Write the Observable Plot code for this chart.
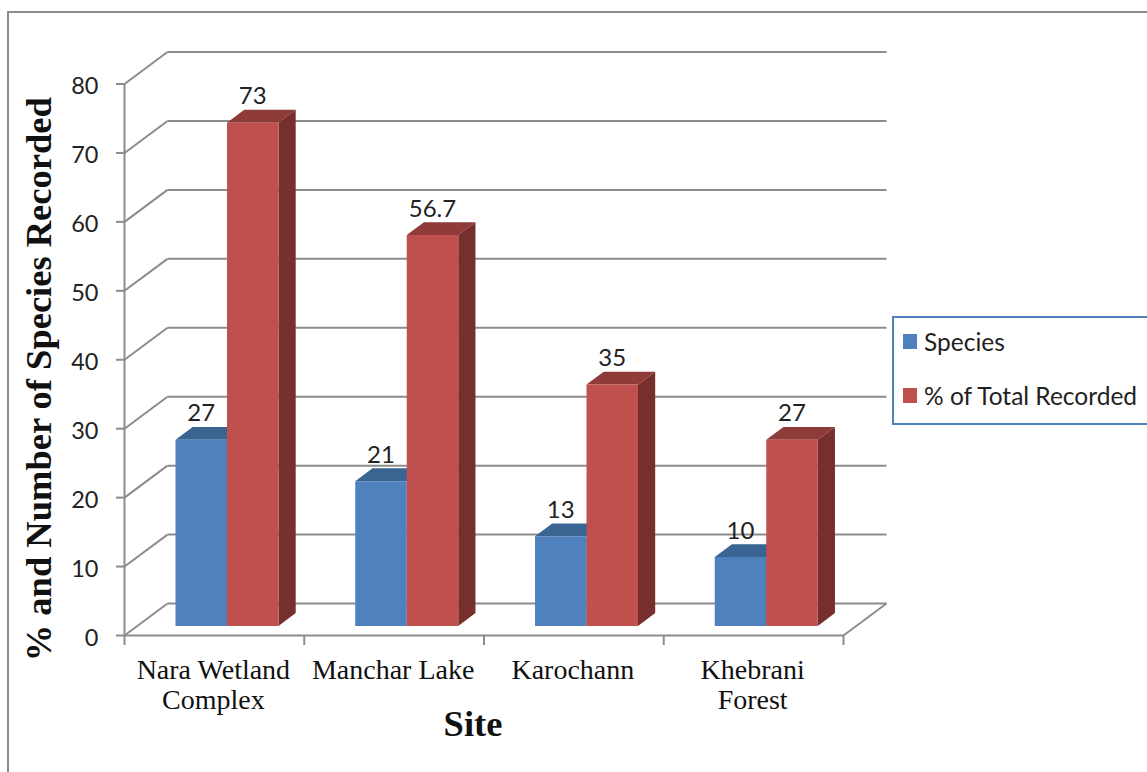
<!DOCTYPE html>
<html>
<head>
<meta charset="utf-8">
<script src="https://cdn.jsdelivr.net/npm/d3@7"></script>
<script src="https://cdn.jsdelivr.net/npm/@observablehq/plot@0.6"></script>
<style>
html,body{margin:0;padding:0;background:#fff;overflow:hidden}
#wrap{position:relative;width:1147px;height:772px;overflow:hidden}
#wrap svg{position:absolute;left:0;top:0;background:transparent}
#frame{position:absolute;left:7px;top:11px;width:1200px;height:900px;border:2.5px solid #8c8c8c;box-sizing:border-box}
#legend{position:absolute;left:892px;top:316px;width:300px;height:109px;box-sizing:border-box;border:2.5px solid #4f81bd;background:#fff;font:24.5px Lato,sans-serif;color:#222}
.row{position:absolute;left:9px;display:flex;align-items:center;white-space:nowrap}
.sw{width:14px;height:14.5px;margin-right:7px;flex:none}
</style>
</head>
<body>
<div id="wrap">
<div id="frame"></div>
</div>
<script>
const sites = ["Nara Wetland\nComplex", "Manchar Lake", "Karochann", "Khebrani\nForest"];
const species = [27, 21, 13, 10];
const percent = [73, 56.7, 35, 27];
const percentLabels = ["73", "56.7", "35", "27"];
const yTicks = [0, 10, 20, 30, 40, 50, 60, 70, 80];
const xTicks = [0, 1, 2, 3, 4];
const seriesNames = ["Species", "% of Total Recorded"];

// oblique projection, in data units of the two scales
const depthX = 0.2392, depthY = 4.64;
const px = (x, d) => x + d * depthX;
const py = (y, d) => y + d * depthY;
const barOffset = 0.212, barWidth = 0.2865, near = 0.3, far = 0.7;

const seriesDefs = [
  {values: species, offset: 0, front: "#4f81bd", top: "#3a6592", side: "#325577"},
  {values: percent, offset: 1, front: "#c0504d", top: "#8e3b39", side: "#772f2d"}
];

const faces = [];
let id = 0;
function face(pts, fill) {
  id++;
  for (const [x, y] of pts) faces.push({x, y, z: id, fill});
}
for (const s of seriesDefs) {
  s.values.forEach((v, i) => {
    const x0 = i + barOffset + s.offset * barWidth, x1 = x0 + barWidth;
    face([[px(x0,near),py(v,near)],[px(x1,near),py(v,near)],[px(x1,far),py(v,far)],[px(x0,far),py(v,far)]], s.top);
    face([[px(x1,near),py(0,near)],[px(x1,far),py(0,far)],[px(x1,far),py(v,far)],[px(x1,near),py(v,near)]], s.side);
    face([[px(x0,near),py(0,near)],[px(x1,near),py(0,near)],[px(x1,near),py(v,near)],[px(x0,near),py(v,near)]], s.front);
  });
}

const grid = "#8c8c8c";
const wallSegs = [];
yTicks.forEach(t => {
  wallSegs.push({x1: 0, y1: t, x2: px(0,1), y2: py(t,1)});
  wallSegs.push({x1: px(0,1), y1: py(t,1), x2: px(4,1), y2: py(t,1)});
});
wallSegs.push({x1: 4, y1: 0, x2: px(4,1), y2: py(0,1)});
wallSegs.push({x1: 0, y1: 0, x2: 4, y2: 0});
wallSegs.push({x1: 0, y1: 0, x2: 0, y2: 80});

const labels = [];
seriesDefs.forEach((s, k) => s.values.forEach((v, i) => labels.push({
  x: px(i + barOffset + (s.offset + 0.5) * barWidth, near),
  y: py(v, near),
  text: k ? percentLabels[i] : String(v)
})));

const serif = "'Liberation Serif', serif";
const sans = "Lato, sans-serif";

const chart = Plot.plot({
  width: 1147, height: 772,
  marginLeft: 124, marginRight: 304, marginTop: 83.5, marginBottom: 137,
  style: {background: "transparent"},
  x: {domain: [0, 4]},
  y: {domain: [0, 80]},
  color: {type: "identity"},
  marks: [
    Plot.link(wallSegs, {x1: "x1", y1: "y1", x2: "x2", y2: "y2", stroke: grid, strokeWidth: 2}),
    Plot.line(faces, {x: "x", y: "y", z: "z", fill: "fill", stroke: "none", curve: "linear-closed"}),
    Plot.axisY({ticks: yTicks, tickSize: 8, tickFormat: () => "", stroke: grid, strokeWidth: 2, label: null}),
    Plot.text(yTicks, {y: d => d, x: () => 0, text: d => String(d), dx: -26, dy: 2.5, textAnchor: "end",
      fontSize: 23.5, fontFamily: sans, fill: "#222"}),
    Plot.axisX({ticks: xTicks, tickSize: 10, tickFormat: () => "", stroke: grid, strokeWidth: 2, label: null}),
    Plot.text(labels, {x: "x", y: "y", text: "text", dy: -26, fontSize: 24, fontFamily: sans, fill: "#222"}),
    Plot.text(sites, {x: (d, i) => i + 0.5, y: () => 0, text: d => d, dx: -1, dy: 22, lineAnchor: "top",
      fontSize: 28, lineHeight: 1.07, fontFamily: serif, fill: "#111", textAnchor: "middle"}),
    Plot.text(["Site"], {x: () => 2, y: () => 0, dx: -11, dy: 89, fontSize: 36.5, fontWeight: "bold", fontFamily: serif, fill: "#111"}),
    Plot.text(["% and Number of Species Recorded"], {x: () => 0, y: () => 40, dx: -85, dy: 19.5, rotate: -90,
      fontSize: 36.5, fontWeight: "bold", fontFamily: serif, fill: "#111"})
  ]
});
const wrap = document.getElementById("wrap");
wrap.appendChild(chart);

const legend = document.createElement("div");
legend.id = "legend";
seriesDefs.forEach((s, k) => {
  const row = document.createElement("div");
  row.className = "row";
  row.style.top = (k ? 63 : 9) + "px";
  row.innerHTML = `<span class="sw" style="background:${s.front}"></span><span>${seriesNames[k]}</span>`;
  legend.appendChild(row);
});
wrap.appendChild(legend);
</script>
</body>
</html>
